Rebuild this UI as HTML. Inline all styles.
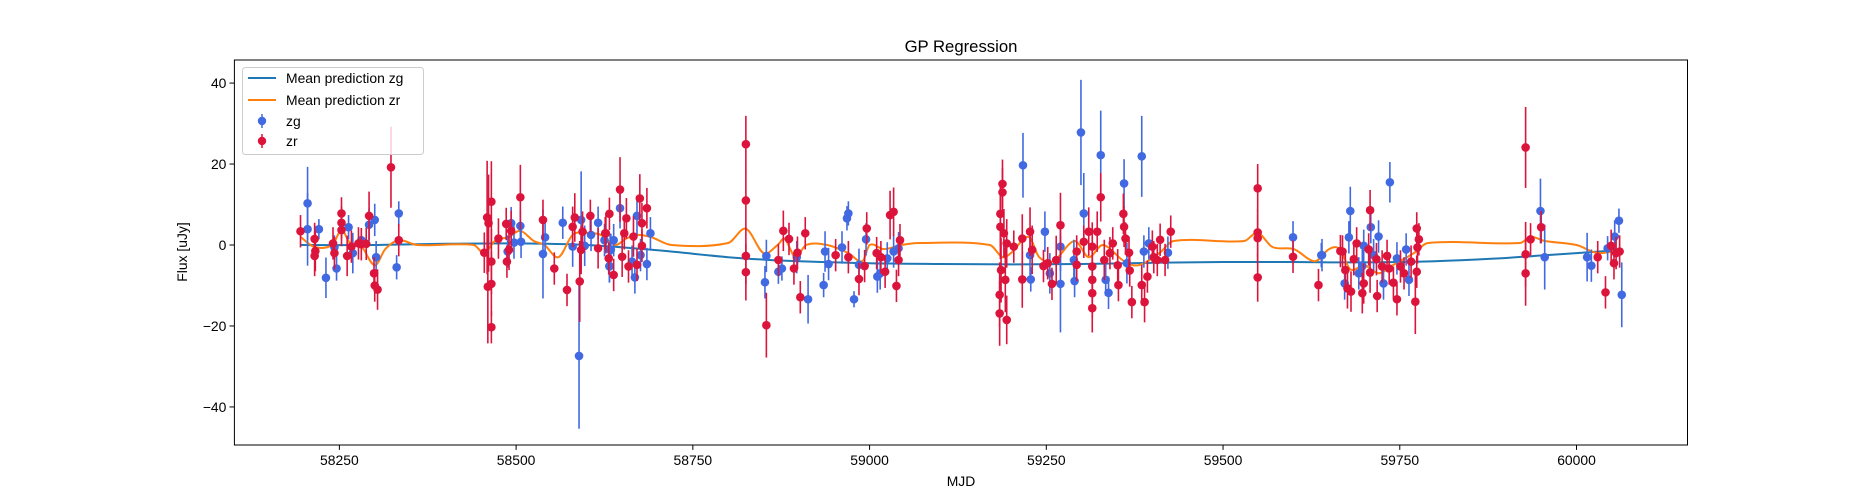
<!DOCTYPE html>
<html><head><meta charset="utf-8"><style>
html,body{margin:0;padding:0;background:#fff;}
svg{display:block;font-family:"Liberation Sans","DejaVu Sans",sans-serif;}
</style></head><body>
<svg id="chart" width="1875" height="500" viewBox="0 0 1875 500" xmlns="http://www.w3.org/2000/svg">
<rect width="1875" height="500" fill="#fff"/>
<text x="961" y="52" font-size="16.7" text-anchor="middle">GP Regression</text>
<text x="961" y="486" font-size="13.9" text-anchor="middle">MJD</text>
<text transform="translate(187,252) rotate(-90)" font-size="13.9" text-anchor="middle">Flux [uJy]</text>
<g id="plot"></g>
<g id="axes"></g>
<g>
<rect x="242.5" y="67.5" width="181" height="87" rx="3" fill="#fff" fill-opacity="0.8" stroke="#ccc"/>
<g><line x1="248" y1="78" x2="276" y2="78" stroke="#1f77b4" stroke-width="2"/><text x="286" y="83" font-size="13.9">Mean prediction zg</text></g>
<g><line x1="248" y1="100" x2="276" y2="100" stroke="#ff7f0e" stroke-width="2"/><text x="286" y="105" font-size="13.9">Mean prediction zr</text></g>
<g><line x1="262" y1="114" x2="262" y2="128" stroke="#4169e1" stroke-width="1.5"/><circle cx="262" cy="121" r="4.2" fill="#4169e1"/><text x="286" y="126" font-size="13.9">zg</text></g>
<g><line x1="262" y1="134" x2="262" y2="148" stroke="#dc143c" stroke-width="1.5"/><circle cx="262" cy="141" r="4.2" fill="#dc143c"/><text x="286" y="146" font-size="13.9">zr</text></g>
</g>
</svg>
<script>
const xTicks = [58250,58500,58750,59000,59250,59500,59750,60000];
const yTicks = [-40,-20,0,20,40];
const zgMjd = [58205,58205,58221,58231,58246,58243,58263,58269,58281,58292,58300,58302,58331,58334,
58488,58493,58497,58506,58507,58541,58538,58566,58580,58592,58589,58597,58606,58616,58625,58632,58634,
58647,58671,58633,58632,58676,58685,58690,58668,58664,58638,
58854,58852,58871,58876,58897,58913,58935,58937,58942,58961,58968,58970,58978,58985,58995,59011,59015,59025,59034,59041,
59217,59227,59228,59248,59255,59270,59270,59290,59289,59299,59303,59327,59334,59338,59360,59364,59385,59388,59395,59422,59599,59639,
59640,59680,59678,59672,59699,59697,59709,59720,59736,59713,59727,59746,59759,59763,59692,59949,59955,60015,60021,60044,60054,60060,60064];
const zgFlux = [10.3,3.9,3.9,-8.1,-5.8,-0.6,4.4,-2,1.2,5,6.2,-3,-5.5,7.8,
-1.6,5.4,0.6,4.7,0.8,1.9,-2.2,5.5,-0.4,6.2,-27.4,-0.2,2.5,5.5,1.2,-5.2,-1.2,
9.1,7.2,-1.2,-5.3,-2.5,-4.7,2.9,-8,-4.1,1.2,
-2.7,-9.2,-6.6,-5.8,-3,-13.4,-9.9,-1.6,-4.7,-0.6,6.6,7.8,-13.4,-4.9,1.4,-7.8,-7,-3.3,-1.6,-0.8,
19.7,-2.5,-8.5,3.3,-7,-0.4,-9.6,-8.9,-3.7,27.8,7.8,22.2,-8.6,-11.8,15.2,-4.5,21.9,-1.6,0.4,-1.9,1.9,-2.5,
-2.5,8.4,1.9,-9.5,-0.2,-5.2,4.4,2.1,15.5,-2.5,-9.5,-3.3,-1.1,-8.6,-7,8.4,-3,-3,-5.1,-0.8,2.1,6,-12.3];
const zgErr = [9,9,2.5,5,3,3,3,5,3,4,4,4,3,3,
4,4,4,4,4,4,11,4,5,12,18,5,4,4,4,4,4,
5,5,4,4,4,4,4,4,4,4,
4,4,3,3,4,6,3,5,4,4,3,3,2,4,4,4,4,4,4,4,
8,5,3,5,5,6,12,4,5,13,10,11,4,4,6,5,10,4,4,4,4,3,
4,6,4,4,4,4,4,4,5,4,4,4,4,4,4,8,8,6,4,3,4,3,8];
const zrMjd = [58195,58215,58216,58215,58241,58243,58253,58253,58253,58261,58267,58277,58281,58288,58292,58299,58300,58304,58323,58334,
58455,58459,58461,58465,58460,58465,58465,58465,58475,58486,58487,58493,58490,58506,58538,58554,58572,58580,58583,58592,58590,58594,58605,58616,58627,
58647,58632,58626,58656,58675,58685,58678,58666,58650,58631,58638,58659,58671,58678,58653,
58825,58825,58825,58825,58854,58871,58878,58886,58893,58898,58902,58909,58952,58970,58985,58993,58996,59029,59034,59043,59041,59038,59022,59010,59016,
59188,59188,59185,59185,59190,59194,59186,59192,59184,59184,59194,59204,59216,59216,59227,59230,59246,59252,59258,59264,59270,59293,59293,59303,59310,
59315,59315,59315,59315,59315,59322,59327,59332,59344,59340,59351,59352,59359,59360,59362,59367,59368,59371,59385,59389,59393,59400,59402,59407,59411,59418,59426,
59549,59549,59549,59549,59599,59635,59666,
59669,59673,59676,59685,59689,59681,59697,59699,59708,59708,59706,59718,59717,59725,59732,59735,59741,59746,59751,59756,59766,59772,59774,59777,59775,59774,
59928,59928,59928,59935,59950,60030,60041,60049,60056,60061,60053];
const zrFlux = [3.4,1.5,-1.5,-2.7,0.4,-2,7.8,5.5,3.7,-2.7,-0.4,0.4,0.2,0.3,7.2,-7,-10,-11,19.2,1.2,
-1.9,6.8,5.4,10.7,-10.3,-9.6,-4.1,-20.3,1.6,5.2,-4.1,3.5,-1.2,11.8,6.2,-5.8,-11.1,4.5,6.8,-1.2,-9,3.3,7.2,-0.8,2.9,
13.7,7.7,2.9,6.6,11.5,9.1,5.4,2.1,-2.9,-3.3,-7.4,-5.3,-4.9,-0.2,2.9,
24.9,11,-2.7,-6.7,-19.8,-3.7,3.5,1.5,-5.8,-1.9,-12.9,2.9,-2.5,-3,-8.4,-5.2,4.1,7.4,8.2,1.2,-3.7,-10.1,-6.6,-2,-3,
15.1,13,7.7,4.5,2.9,0.4,-6.2,-8.6,-12.3,-16.9,-18.5,-0.4,1.6,-8.5,3.3,-1.2,-5.2,-4.5,-9.6,-3.7,4.9,-1.6,-4.9,0.8,3.3,
-0.4,-5.3,-8.6,-11.9,-15.6,3.3,11.8,-3.7,0.4,-2,-5,-9.9,7.7,4.5,1.6,-1.9,-6.3,-14.1,-9.9,-14.1,-7.8,-0.4,-3,-3.7,1.3,-3.7,3.3,
14,3.1,1.7,-8,-2.9,-9.9,-1.5,
-1.6,-6.2,-10.7,-3.5,0.4,-11.5,-11.9,-9.5,8.6,-6.8,-1.1,-12.6,-3.5,-5.3,-2.7,-5.8,-9.3,-13.4,-5.3,-7,-4.1,-14,4.1,1.4,-0.6,-6.6,
24.1,-2.3,-7,1.4,4.4,-3,-11.7,-0.2,-2,-1.6,-4.5];
const zrErr = [4,4,5,5,4,4,4,4,4,5,4,4,4,4,6,4,4,5,10,4,
5,14,12,10,14,8,8,4,5,4,4,5,5,8,5,4,4,5,6,6,10,5,4,5,5,
8,4,4,5,6,5,5,5,5,4,4,4,4,4,4,
7,7,7,7,8,4,5,4,4,4,4,4,4,4,4,4,4,6,6,4,4,4,4,4,4,
6,6,8,8,6,6,8,8,8,8,6,4,6,7,6,6,4,4,4,6,8,4,4,4,6,
6,6,6,6,6,5,6,5,4,4,4,4,5,5,4,4,4,4,5,5,4,4,4,4,4,4,4,
6,6,6,6,4,4,4,
4,4,5,4,4,5,5,5,5,5,4,4,4,4,4,4,4,4,4,4,4,8,4,4,4,4,
10,8,8,4,4,4,4,4,4,4,4];
const zgPredMjd = [58195,58300,58400,58500,58600,58700,58800,58850,58900,59000,59100,59200,59300,59400,59500,59600,59700,59800,59900,59950,60000,60065];
const zgPredFlux = [0,0,0.3,0.4,0,-1.3,-3,-3.6,-4,-4.5,-4.7,-4.8,-4.7,-4.4,-4.2,-4.2,-4.3,-4.0,-3.2,-2.6,-2,-1.2];
const zrPredMjd = [58195,58215,58240,58253,58265,58280,58300,58315,58334,58360,58440,58455,58470,58490,58506,58525,58540,58560,58580,58600,58620,58640,58655,58670,58690,58720,58800,58825,58850,58870,58880,58895,58910,58940,58970,58990,59000,59020,59045,59070,59170,59188,59200,59225,59240,59260,59290,59310,59330,59360,59380,59410,59430,59530,59549,59570,59600,59630,59650,59665,59680,59700,59720,59740,59770,59790,59920,59935,59955,60000,60030,60065];
const zrPredFlux = [2,-0.5,0,3.7,0.5,0,-5,-1,1.2,0,0,-2,1,2,3.5,1,0,-3,2.5,3,2.5,0,1.5,2.5,2,0,0.5,4,-2,0,1.5,-3,0,0,-2,-4,0,-1,0,0.5,0,-3,-2,2,-3,-4,1,-3,0,-4,-5,-2,1,1,3,-0.5,-1,-4,-1,-1,-6,-5,-7,-5,-2,0.5,0.5,2,1,0,-2,-1];

const L=234.4,R=1687.5,T=60,B=445;
const xMin=58101.5,xMax=60157,yMin=-49.4,yMax=45.7;
function sx(v){return L+(v-xMin)/(xMax-xMin)*(R-L);}
function sy(v){return B-(v-yMin)/(yMax-yMin)*(B-T);}
const NS="http://www.w3.org/2000/svg";
function mk(tag,attrs,parent){const e=document.createElementNS(NS,tag);for(const k in attrs)e.setAttribute(k,attrs[k]);parent.appendChild(e);return e;}
const plot=document.getElementById('plot');
const axes=document.getElementById('axes');

function drawLine(xs,ys,color,name){
  const P=xs.map((x,i)=>[sx(x),sy(ys[i])]);
  let d='M'+P[0][0].toFixed(1)+','+P[0][1].toFixed(1);
  for(let i=0;i<P.length-1;i++){
    const p0=P[Math.max(0,i-1)],p1=P[i],p2=P[i+1],p3=P[Math.min(P.length-1,i+2)];
    const dx=p2[0]-p1[0];
    const m1=(p2[1]-p0[1])/Math.max(1e-6,p2[0]-p0[0]);
    const m2=(p3[1]-p1[1])/Math.max(1e-6,p3[0]-p1[0]);
    const c1=[p1[0]+dx/3,p1[1]+m1*dx/3],c2=[p2[0]-dx/3,p2[1]-m2*dx/3];
    d+='C'+c1[0].toFixed(1)+','+c1[1].toFixed(1)+' '+c2[0].toFixed(1)+','+c2[1].toFixed(1)+' '+p2[0].toFixed(1)+','+p2[1].toFixed(1);
  }
  const p=mk('path',{d:d,fill:'none',stroke:color,'stroke-width':2,'stroke-linejoin':'round'},plot);
  
  
}
drawLine(zgPredMjd,zgPredFlux,'#1f77b4','mean-prediction-zg-line');
drawLine(zrPredMjd,zrPredFlux,'#ff7f0e','mean-prediction-zr-line');

function drawPoints(xs,ys,es,color,name){
  const g=mk('g',{},plot);
  
  
  for(let i=0;i<xs.length;i++){
    const x=sx(xs[i]);
    const ln=mk('line',{x1:x,x2:x,y1:sy(ys[i]-es[i]),y2:sy(ys[i]+es[i]),stroke:color,'stroke-width':1.6},g);
    
    
  }
  for(let i=0;i<xs.length;i++){
    const c=mk('circle',{cx:sx(xs[i]),cy:sy(ys[i]),r:4.3,fill:color},g);
    
    
  }
}
drawPoints(zgMjd,zgFlux,zgErr,'#4169e1','zg');
drawPoints(zrMjd,zrFlux,zrErr,'#dc143c','zr');

const frame=mk('rect',{x:L,y:T,width:R-L,height:B-T,fill:'none',stroke:'#000','stroke-width':1},axes);


xTicks.forEach(v=>{
  const x=sx(v);
  const t=mk('line',{x1:x,x2:x,y1:B,y2:B+4.9,stroke:'#000','stroke-width':1},axes);
  
  
  const lb=mk('text',{x:x,y:B+20,'font-size':13.9,'text-anchor':'middle'},axes);
  lb.textContent=v;
  
  
});
yTicks.forEach(v=>{
  const y=sy(v);
  const t=mk('line',{x1:L-4.9,x2:L,y1:y,y2:y,stroke:'#000','stroke-width':1},axes);
  
  
  const lb=mk('text',{x:L-8,y:y+5,'font-size':13.9,'text-anchor':'end'},axes);
  lb.textContent=(v<0?'\u2212'+(-v):String(v));
  
  
});
</script>
</body></html>
